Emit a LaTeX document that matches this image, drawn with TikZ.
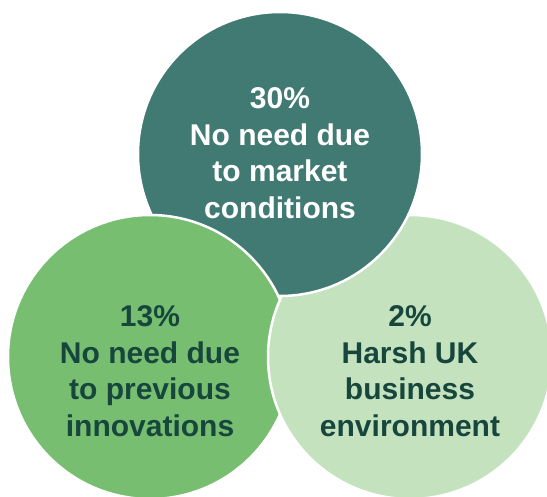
\documentclass[tikz,border=0pt]{standalone}
\usepackage{fontspec}
\setsansfont{Liberation Sans}
\usepackage{tikz}
\definecolor{tealtop}{HTML}{417A73}
\definecolor{greenleft}{HTML}{77BE71}
\definecolor{greenright}{HTML}{C5E2BF}
\definecolor{darkink}{HTML}{17463C}
\tikzset{
  bubble/.style = {circle, draw=white, line width=2.5pt,
    minimum size=284pt, inner sep=0pt},
  bub_top/.style = {bubble, fill=tealtop},% cercle du haut
  bub_left/.style = {bubble, fill=greenleft},% cercle gauche
  bub_right/.style = {bubble, fill=greenright},% cercle droit
  caption/.style = {align=center, inner sep=0pt,
    font=\sffamily\bfseries\fontsize{30}{36.5}\selectfont}
}

\begin{document}
\begin{tikzpicture}[x=1pt, y=-1pt]
	\useasboundingbox (0,0) rectangle (547,497);
	\node [bub_right] (c_right) at (410,357) {};
	\node [bub_top] (c_top) at (280,154) {};
	\node [bub_left] (c_left) at (150,357) {};
	% le cercle droit repasse sur le gauche
	\begin{scope}
		\clip (0,299) rectangle (547,497);
		\node [bub_right] (c_right2) at (410,357) {};
	\end{scope}
	\node [caption, white] (t_top) at ([yshift=1pt]c_top.center) {30\%\\No need due\\to market\\conditions};
	\node [caption, darkink] (t_left) at ([yshift=-14pt]c_left.center) {13\%\\No need due\\to previous\\innovations};
	\node [caption, darkink] (t_right) at ([yshift=-14pt]c_right.center) {2\%\\Harsh UK\\business\\environment};
\end{tikzpicture}
\end{document}
